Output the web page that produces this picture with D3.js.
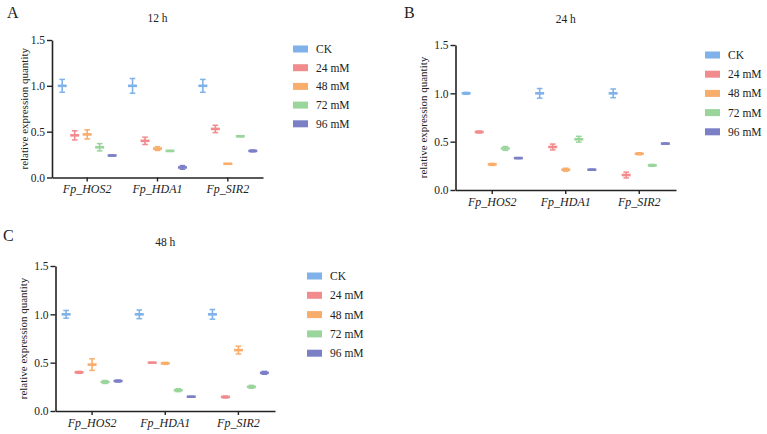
<!DOCTYPE html>
<html>
<head>
<meta charset="utf-8">
<script src="https://cdn.jsdelivr.net/npm/d3@7"></script>
<style>
  body { margin: 0; background: #fff; }
  svg text { font-family: "Liberation Serif", "DejaVu Serif", serif; }
</style>
</head>
<body>
<svg id="chart" width="767" height="434"></svg>
<script>
// data
const genes = ['Fp_HOS2', 'Fp_HDA1', 'Fp_SIR2'];
const treatments = ['CK', '24 mM', '48 mM', '72 mM', '96 mM'];
const colors = ['#7fb2e8', '#f28b8e', '#f9ad6a', '#9ad59c', '#7b7fc6'];
const yTicks = [0, 0.5, 1.0, 1.5];

// mean per gene, one array per treatment
const mean12 = [
  [1.00, 1.00, 1.00],
  [0.46, 0.40, 0.53],
  [0.47, 0.315, 0.15],
  [0.33, 0.29, 0.45],
  [0.24, 0.11, 0.29]
];
const sd12 = [
  [0.07, 0.08, 0.07],
  [0.05, 0.04, 0.04],
  [0.05, 0.02, 0.0],
  [0.04, 0.005, 0.005],
  [0.005, 0.02, 0.01]
];
const mean24 = [
  [1.00, 1.00, 1.00],
  [0.60, 0.445, 0.155],
  [0.265, 0.21, 0.375],
  [0.43, 0.525, 0.255],
  [0.33, 0.21, 0.48]
];
const sd24 = [
  [0.01, 0.05, 0.045],
  [0.01, 0.03, 0.03],
  [0.01, 0.015, 0.01],
  [0.02, 0.03, 0.01],
  [0.005, 0.005, 0.005]
];
const mean48 = [
  [1.00, 1.00, 1.00],
  [0.40, 0.50, 0.145],
  [0.48, 0.493, 0.63],
  [0.30, 0.215, 0.25],
  [0.31, 0.148, 0.395]
];
const sd48 = [
  [0.04, 0.045, 0.05],
  [0.01, 0.003, 0.01],
  [0.06, 0.01, 0.04],
  [0.015, 0.015, 0.015],
  [0.01, 0.003, 0.015]
];

const panels = [
  { letter: 'A', title: '12 h', mean: mean12, sd: sd12,
    x0: 52, x1: 263, top: 40, bottom: 177.5, letterX: 7, letterY: 18, titleY: 22,
    legendX: 293, legendY: 49, legendStep: 18.7, labelX: 25 },
  { letter: 'B', title: '24 h', mean: mean24, sd: sd24,
    x0: 455.5, x1: 676, top: 45, bottom: 190, letterX: 404, letterY: 18, titleY: 23,
    legendX: 705, legendY: 55, legendStep: 19.2, labelX: 424 },
  { letter: 'C', title: '48 h', mean: mean48, sd: sd48,
    x0: 55.5, x1: 275, top: 266, bottom: 411, letterX: 3, letterY: 241, titleY: 246,
    legendX: 307, legendY: 276, legendStep: 19.3, labelX: 24 }
];

const svg = d3.select('#chart');
const ink = '#222';
const serif = '"Liberation Serif", "DejaVu Serif", serif';

panels.forEach(p => {
  const g = svg.append('g').attr('font-family', serif);

  const x = d3.scaleBand().domain(genes).range([p.x0, p.x1]).paddingInner(0).paddingOuter(0);
  const off = d3.scalePoint().domain(treatments)
    .range([-0.355 * x.bandwidth(), 0.355 * x.bandwidth()]);
  const y = d3.scaleLinear().domain([0, 1.5]).range([p.bottom, p.top]);

  // panel letter and title
  g.append('text').attr('x', p.letterX).attr('y', p.letterY)
    .attr('font-size', 16).attr('fill', ink).text(p.letter);
  g.append('text').attr('x', (p.x0 + p.x1) / 2).attr('y', p.titleY)
    .attr('text-anchor', 'middle').attr('font-size', 11.5).attr('fill', ink).text(p.title);

  // axes
  const yAxis = g.append('g').attr('transform', `translate(${p.x0},0)`)
    .call(d3.axisLeft(y).tickValues(yTicks).tickFormat(d3.format('.1f')).tickSize(5).tickSizeOuter(0).tickPadding(2));
  const xAxis = g.append('g').attr('transform', `translate(0,${p.bottom})`)
    .call(d3.axisBottom(x).tickSize(4).tickSizeOuter(0).tickPadding(3));

  [yAxis, xAxis].forEach(a => {
    a.attr('font-family', serif);
    a.select('.domain').attr('stroke', ink).attr('stroke-width', 1.6);
    a.selectAll('.tick line').attr('stroke', ink).attr('stroke-width', 1.4);
    a.selectAll('.tick text').attr('fill', ink);
  });
  yAxis.attr('font-size', 11.5);
  xAxis.attr('font-size', 12).selectAll('.tick text').attr('font-style', 'italic');

  // y label
  g.append('text')
    .attr('transform', `translate(${p.labelX},${(p.top + p.bottom) / 2}) rotate(-90)`)
    .attr('text-anchor', 'middle').attr('dominant-baseline', 'middle')
    .attr('font-size', 11).attr('fill', ink)
    .text('relative expression quantity');

  // mean +/- sd markers
  const pts = [];
  treatments.forEach((t, i) => {
    genes.forEach((gene, j) => {
      pts.push({ t, gene, m: p.mean[i][j], s: p.sd[i][j], c: colors[i] });
    });
  });
  const cx = d => x(d.gene) + x.bandwidth() / 2 + off(d.t);

  const mk = g.append('g').selectAll('g').data(pts).join('g')
    .attr('stroke', d => d.c).attr('fill', 'none');
  mk.append('line')
    .attr('x1', cx).attr('x2', cx)
    .attr('y1', d => y(d.m + d.s)).attr('y2', d => y(d.m - d.s))
    .attr('stroke-width', 1.6);
  mk.append('line')
    .attr('x1', d => cx(d) - 2.8).attr('x2', d => cx(d) + 2.8)
    .attr('y1', d => y(d.m + d.s)).attr('y2', d => y(d.m + d.s))
    .attr('stroke-width', 1.5);
  mk.append('line')
    .attr('x1', d => cx(d) - 2.8).attr('x2', d => cx(d) + 2.8)
    .attr('y1', d => y(d.m - d.s)).attr('y2', d => y(d.m - d.s))
    .attr('stroke-width', 1.5);
  mk.append('line')
    .attr('x1', d => cx(d) - 4.5).attr('x2', d => cx(d) + 4.5)
    .attr('y1', d => y(d.m)).attr('y2', d => y(d.m))
    .attr('stroke-width', 2.6);

  // legend
  const lg = g.append('g').selectAll('g').data(treatments).join('g')
    .attr('transform', (d, i) => `translate(${p.legendX},${p.legendY + i * p.legendStep})`);
  lg.append('rect').attr('x', 0).attr('y', -3.5).attr('width', 15).attr('height', 7)
    .attr('fill', (d, i) => colors[i]);
  lg.append('text').attr('x', 23).attr('y', 0).attr('dy', '0.35em')
    .attr('font-size', 11.5).attr('fill', ink).text(d => d);
});
</script>
</body>
</html>
